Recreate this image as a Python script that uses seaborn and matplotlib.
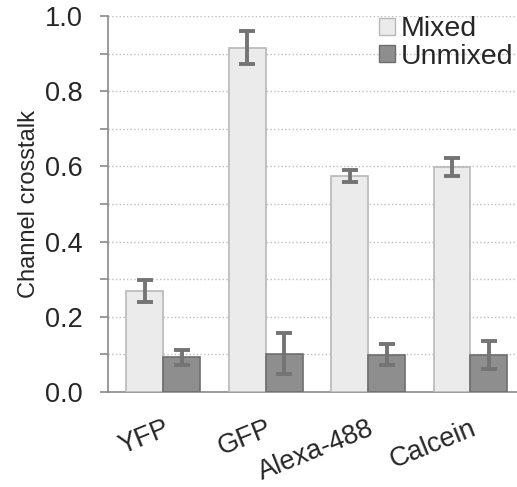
import numpy as np
import pandas as pd
import seaborn as sns
import matplotlib.pyplot as plt
from matplotlib.ticker import MultipleLocator
from matplotlib.patches import Patch

# values
dyes = ["YFP", "GFP", "Alexa-488", "Calcein"]
mixed = [0.268, 0.916, 0.574, 0.599]
mixed_err = [0.029, 0.044, 0.016, 0.024]
unmixed = [0.092, 0.102, 0.099, 0.099]
unmixed_err = [0.021, 0.055, 0.028, 0.038]

df = pd.DataFrame({
    "dye": dyes * 2,
    "crosstalk": mixed + unmixed,
    "err": mixed_err + unmixed_err,
    "kind": ["Mixed"] * 4 + ["Unmixed"] * 4,
})

sns.set_style("white")
plt.rcParams["font.family"] = ["Liberation Sans", "DejaVu Sans"]

fig = plt.figure(figsize=(5.17, 4.87), dpi=100)
ax = fig.add_axes([0.209, 0.195, 0.80, 0.772])

fills = {"Mixed": "#ebebeb", "Unmixed": "#8e8e8e"}
edges = {"Mixed": "#b8b8b8", "Unmixed": "#6e6e6e"}

sns.barplot(data=df, x="dye", y="crosstalk", hue="kind", palette=fills,
            width=0.72, errorbar=None, ax=ax, legend=False, zorder=3)

# edge colours and error bars per hue level
kinds = ["Mixed", "Unmixed"]
for cont, kind in zip(ax.containers, kinds):
    sub = df[df["kind"] == kind]
    xs = []
    for p in cont.patches:
        p.set_edgecolor(edges[kind])
        p.set_linewidth(1.2)
        xs.append(p.get_x() + p.get_width() / 2)
    ax.errorbar(xs, sub["crosstalk"], yerr=sub["err"], fmt="none",
                ecolor="#747474", elinewidth=2.8, capsize=6, capthick=2.8,
                zorder=4)

ax.set_xlim(-0.54, 3.5)
ax.set_ylim(0, 1.0)
ax.yaxis.set_major_locator(MultipleLocator(0.2))
ax.yaxis.set_minor_locator(MultipleLocator(0.1))
ax.yaxis.set_major_formatter(plt.FormatStrFormatter("%.1f"))
ax.grid(axis="y", which="both", linestyle=":", color="#bdbdbd", linewidth=1.0, zorder=0)
ax.set_axisbelow(True)

for s in ["top", "right"]:
    ax.spines[s].set_visible(False)
for s in ["left", "bottom"]:
    ax.spines[s].set_color("#8a8a8a")
    ax.spines[s].set_linewidth(1.2)

ax.tick_params(axis="y", which="both", direction="out", length=6, width=1.2,
               color="#8a8a8a", left=True, labelsize=19.5, pad=12)
ax.tick_params(axis="x", length=0, labelsize=19.5, pad=17)
for lab in ax.get_xticklabels():
    lab.set_rotation(22)
    lab.set_ha("right")
    lab.set_rotation_mode("anchor")

ax.set_xlabel("")
ax.set_ylabel("Channel crosstalk", fontsize=17, labelpad=4)

handles = [Patch(facecolor=fills[k], edgecolor=edges[k]) for k in kinds]
ax.legend(handles, kinds, loc="upper right", bbox_to_anchor=(1.02, 1.045),
          frameon=False, fontsize=20.5, handlelength=0.55, handleheight=0.55,
          handletextpad=0.2, labelspacing=0.05, borderaxespad=0.2)

fig.savefig("out.png", dpi=100)
